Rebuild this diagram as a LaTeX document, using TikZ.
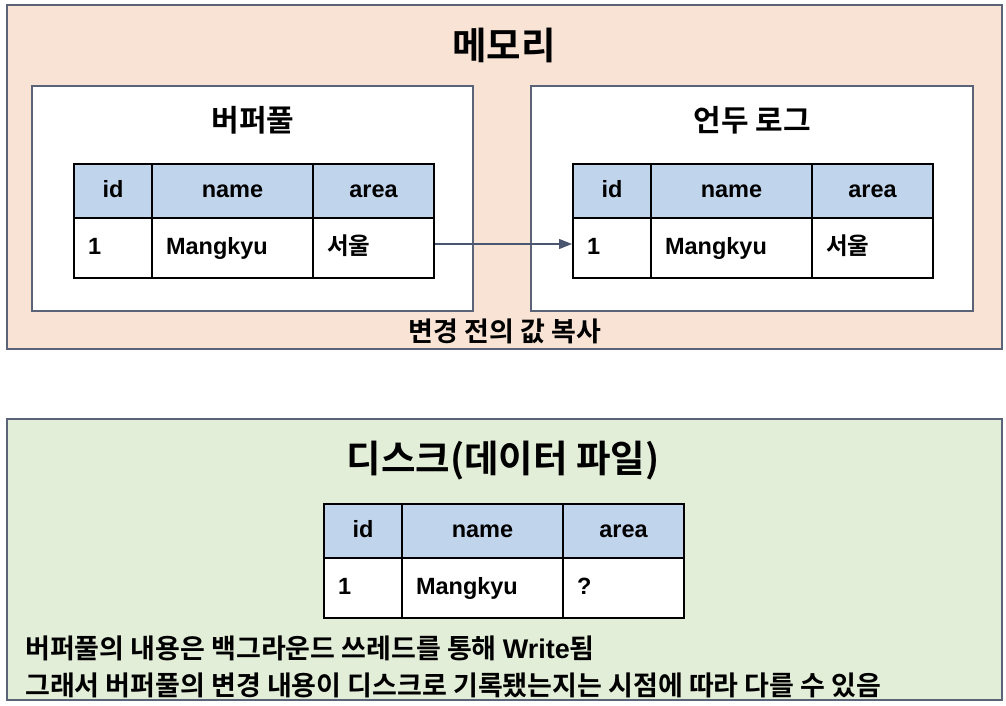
\documentclass[tikz,border=0pt]{standalone}
\usepackage{fontspec}
\setmainfont{Liberation Sans}
\newfontfamily\kr{Noto Sans CJK KR}[BoldFont={* Bold}]
\usetikzlibrary{arrows.meta}
\definecolor{peach}{HTML}{F8E3D5}
\definecolor{lgreen}{HTML}{E3EED9}
\definecolor{hdrblue}{HTML}{C0D4EB}
\definecolor{frame}{HTML}{5A6378}
\definecolor{arrowc}{HTML}{4A5670}
\tikzset{
  area/.style={draw=frame, line width=1.6pt},
  inbox/.style={draw=frame, line width=1.3pt, fill=white},
  cell/.style={draw=black, line width=2pt, anchor=north west, inner ysep=0pt,
    text height=17pt, text depth=5pt,
    font=\bfseries\fontsize{23.5}{27}\selectfont},
  hcell/.style={cell, fill=hdrblue, minimum height=54pt, inner xsep=0pt, align=center},
  dcell/.style={cell, fill=white, minimum height=60pt, align=left, inner xsep=14pt},
  bigtitle/.style={font=\kr\bfseries\fontsize{37.5}{44}\selectfont, inner sep=0pt},
  subtitle/.style={font=\kr\bfseries\fontsize{30}{36}\selectfont, inner sep=0pt},
  note/.style={font=\kr\bfseries\fontsize{27}{32}\selectfont, inner sep=0pt},
}
\newcommand{\dbtable}[4]{%
  \node[hcell, minimum width=78pt] (#1h1) at (#2,#3) {id};
  \node[hcell, minimum width=161pt] (#1h2) at (#2+78,#3) {name};
  \node[hcell, minimum width=121pt] (#1h3) at (#2+239,#3) {area};
  \node[dcell, text width=50pt] (#1d1) at (#2,#3+54) {1};
  \node[dcell, text width=133pt] (#1d2) at (#2+78,#3+54) {Mangkyu};
  \node[dcell, text width=93pt] (#1d3) at (#2+239,#3+54) {#4};
}
\begin{document}
\begin{tikzpicture}[x=1pt,y=-1pt]
\useasboundingbox (0,0) rectangle (1006,706);
% memory area
\draw[area, fill=peach] (7,5) rectangle (1002,349);
\node[bigtitle] (mem) at (504,45) {메모리};
\draw[inbox] (32,86) rectangle (473,311);
\draw[inbox] (531,86) rectangle (973,311);
\node[subtitle] (bp) at (253,120) {버퍼풀};
\node[subtitle] (ul) at (752,120) {언두 로그};
\dbtable{L}{73}{163}{{\kr 서울}}
\dbtable{R}{572}{163}{{\kr 서울}}
\draw[arrowc, line width=1.3pt, -{Triangle[length=13pt,width=10pt]}]
  ([yshift=4pt]Ld3.east) -- ([yshift=4pt]Rd1.west);
\node[note] (copy) at (505,331) {변경 전의 값 복사};
% disk area
\draw[area, fill=lgreen] (7,419) rectangle (1002,700);
\node[bigtitle] (disk) at (503,461) {디스크(데이터 파일)};
\dbtable{D}{323}{503}{?}
\node[note, anchor=west] (l1) at (25,648) {버퍼풀의 내용은 백그라운드 쓰레드를 통해 {\fontfamily{\rmdefault}\selectfont Write}됨};
\node[note, anchor=west] (l2) at (25,685) {그래서 버퍼풀의 변경 내용이 디스크로 기록됐는지는 시점에 따라 다를 수 있음};
\end{tikzpicture}
\end{document}
